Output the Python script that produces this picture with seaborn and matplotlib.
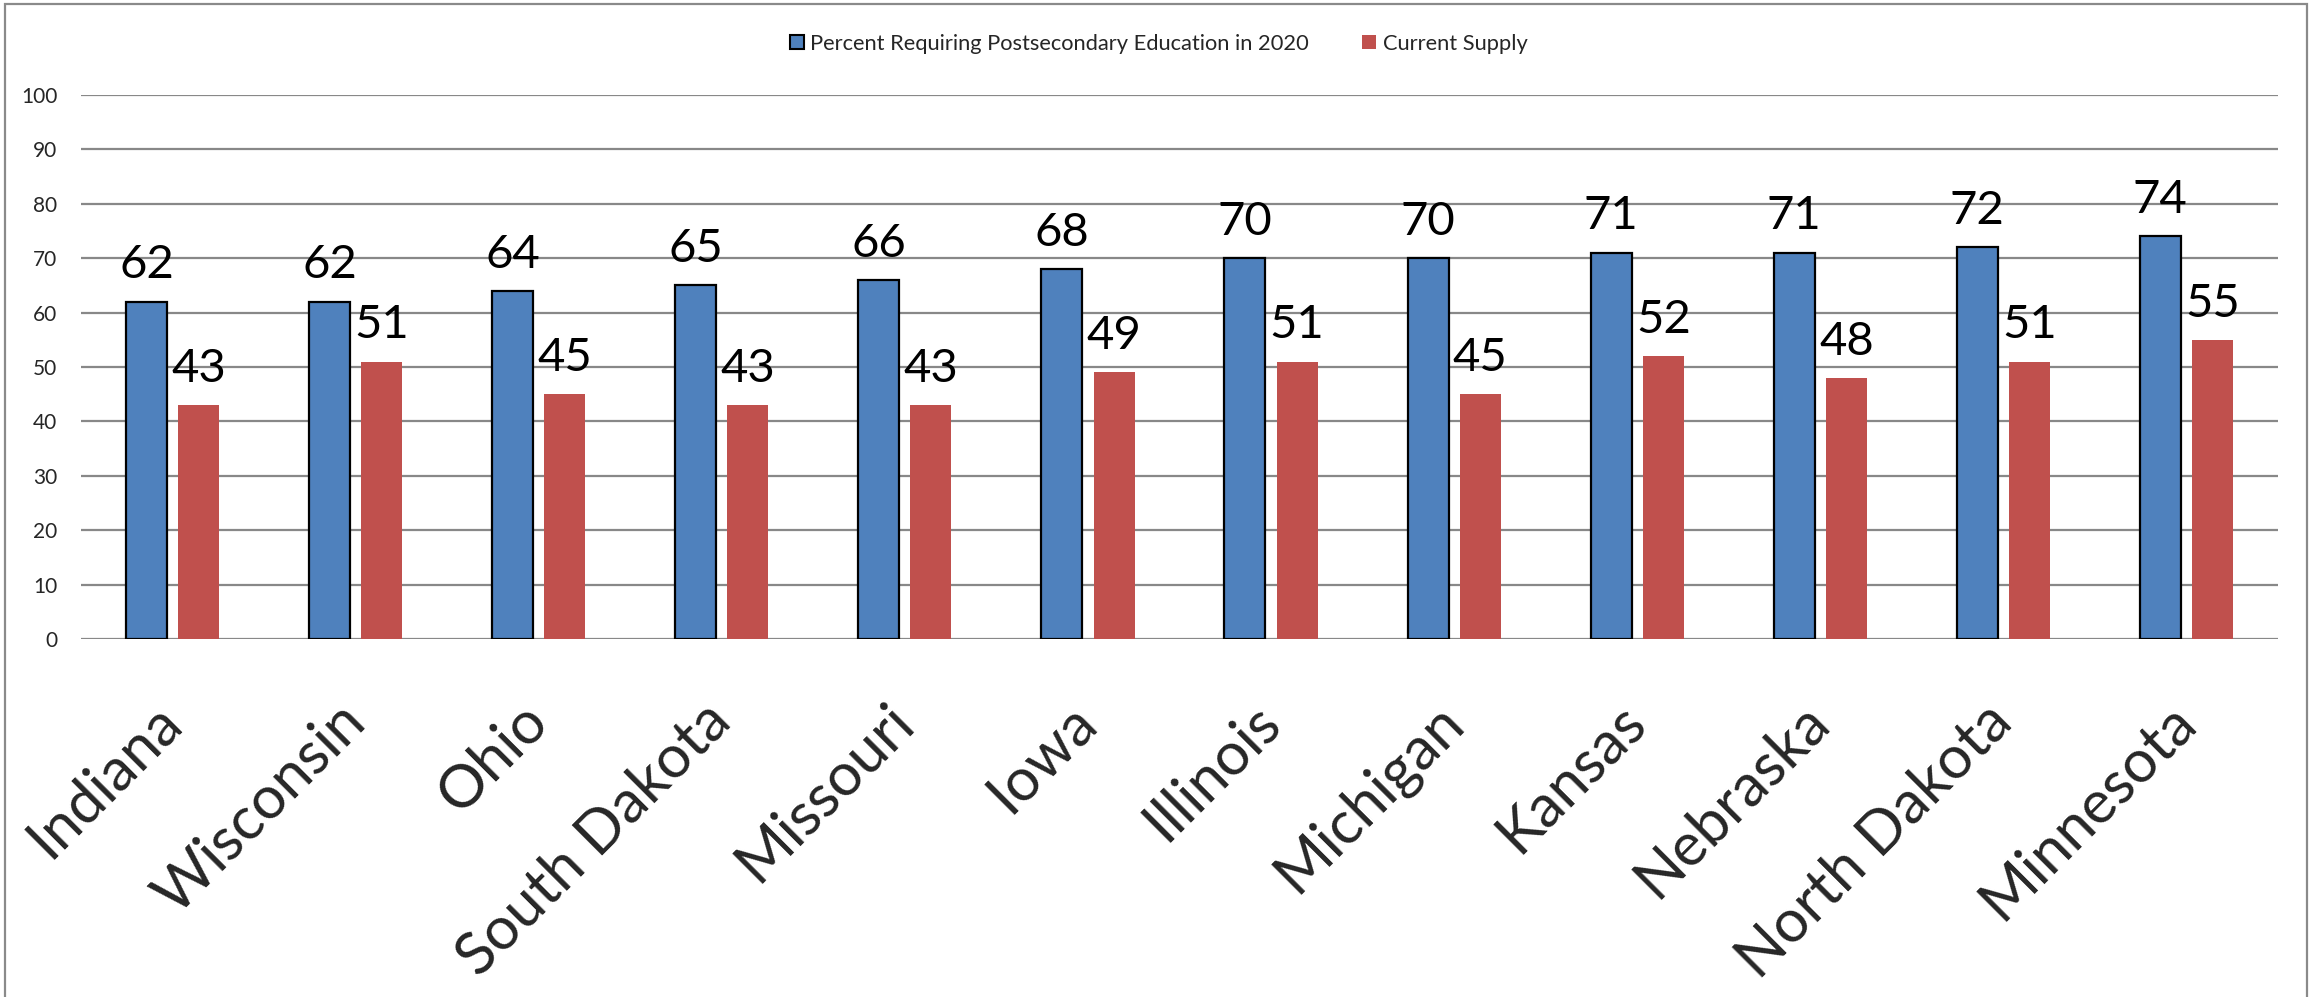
import matplotlib
matplotlib.use("Agg")
import matplotlib.pyplot as plt
from matplotlib.patches import Patch, Rectangle
import seaborn as sns
import pandas as pd

states = ["Indiana", "Wisconsin", "Ohio", "South Dakota", "Missouri", "Iowa",
          "Illinois", "Michigan", "Kansas", "Nebraska", "North Dakota", "Minnesota"]
required_2020 = [62, 62, 64, 65, 66, 68, 70, 70, 71, 71, 72, 74]
current_supply = [43, 51, 45, 43, 43, 49, 51, 45, 52, 48, 51, 55]
series_names = ["Percent Requiring Postsecondary Education in 2020", "Current Supply"]
y_ticks = [0, 10, 20, 30, 40, 50, 60, 70, 80, 90, 100]

BLUE = "#4F81BD"
RED = "#C0504D"
GRID = "#888888"

sns.set_theme(style="white")
plt.rcParams["font.family"] = ["Lato", "DejaVu Sans"]

df = pd.DataFrame({
    "state": states * 2,
    "value": required_2020 + current_supply,
    "series": [series_names[0]] * len(states) + [series_names[1]] * len(states),
})

W, H = 2315, 997
fig = plt.figure(figsize=(W / 100, H / 100), dpi=100)
fig.patch.set_facecolor("white")
ax = fig.add_axes([81 / W, 1 - 639 / H, 2197 / W, 544 / H])

sns.barplot(data=df, x="state", y="value", hue="series", order=states,
            hue_order=series_names, palette=[BLUE, RED], saturation=1,
            width=0.57, gap=0.214, errorbar=None, legend=False, ax=ax, zorder=3)

# blue bars with black outline, red bars without
for p in ax.containers[0]:
    p.set_edgecolor("black")
    p.set_linewidth(1.6)
for p in ax.containers[1]:
    p.set_edgecolor("none")
    p.set_linewidth(0)

for cont in ax.containers:
    ax.bar_label(cont, labels=[f"{v:g}" for v in cont.datavalues],
                 padding=11, fontsize=34, color="black")

ax.set_xlim(-0.5, len(states) - 0.5)
ax.set_ylim(0, 100)
ax.set_yticks(y_ticks)
ax.set_yticklabels([str(t) for t in y_ticks], fontsize=15)
ax.yaxis.grid(True, color=GRID, linewidth=1.6, zorder=0)
ax.set_axisbelow(True)
for s in ax.spines.values():
    s.set_visible(False)
ax.tick_params(axis="y", length=0, pad=17)
ax.tick_params(axis="x", length=0, pad=53)
ax.set_xlabel("")
ax.set_ylabel("")
for lbl in ax.get_xticklabels():
    lbl.set_rotation(45)
    lbl.set_ha("right")
    lbl.set_va("center")
    lbl.set_rotation_mode("anchor")
    lbl.set_fontsize(43)

handles = [Patch(facecolor=BLUE, edgecolor="black", linewidth=1.5, label=series_names[0]),
           Patch(facecolor=RED, edgecolor="none", label=series_names[1])]
fig.legend(handles=handles, loc="center left", bbox_to_anchor=(790 / W, 1 - 44 / H),
           frameon=False, fontsize=15.75, ncol=2, handlelength=0.62, handleheight=0.62,
           handletextpad=0.3, columnspacing=2.45, borderpad=0, borderaxespad=0)

# outer chart frame
fig.patches.append(Rectangle((5 / W, -0.05), (2307 - 5) / W, 1.05 - 4 / H,
                             transform=fig.transFigure, fill=False,
                             edgecolor="#8a8a8a", linewidth=1.6, clip_on=False))

fig.savefig("out.png", dpi=100, facecolor="white")
